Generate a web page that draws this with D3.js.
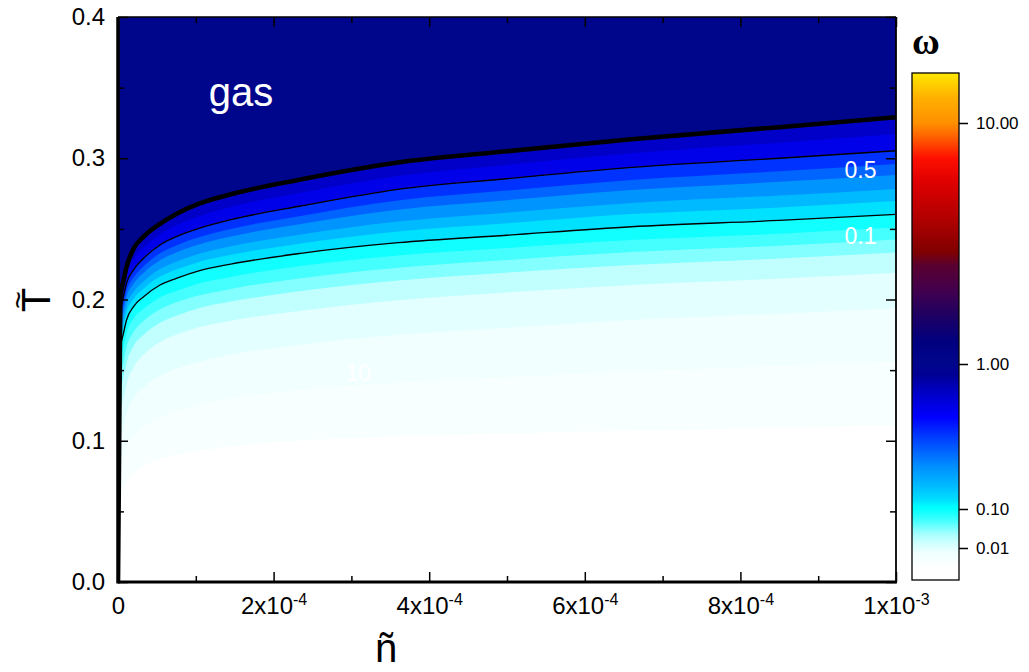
<!DOCTYPE html>
<html>
<head>
<meta charset="utf-8">
<script src="https://cdn.jsdelivr.net/npm/d3@7"></script>
<style>
  html, body { margin: 0; padding: 0; background: #fff; }
  svg { display: block; }
  text { font-family: "Liberation Sans", Arial, sans-serif; }
</style>
</head>
<body>
<svg id="chart" width="1029" height="672"></svg>
<script>
// ---------------- data ----------------
// reduced density n (in units of 1e-4)
const nVals = [0, 0.03, 0.07, 0.11, 0.2, 0.33, 0.54, 0.75, 1.05, 1.45, 2.35, 3.6, 5, 6.6, 8.5, 10];

// gas boundary (thick line)
const T_boundary = [0, 0.202, 0.213, 0.223, 0.236, 0.2445, 0.2535, 0.2605, 0.268, 0.2745, 0.285, 0.297, 0.305, 0.3135, 0.322, 0.329];
// colour-band edges and labelled contours (0.5 and 0.1)
const T_band1 = [0, 0.196, 0.2075, 0.217, 0.2285, 0.2368, 0.246, 0.2525, 0.259, 0.2655, 0.2756, 0.2875, 0.2953, 0.3035, 0.311, 0.3172];
const T_w05 = [0, 0.190, 0.202, 0.2115, 0.221, 0.2292, 0.2386, 0.2445, 0.2505, 0.2565, 0.2662, 0.278, 0.2855, 0.2935, 0.300, 0.3053];
const T_bandA = [0, 0.1848, 0.1965, 0.206, 0.2155, 0.2235, 0.2327, 0.2383, 0.2442, 0.2499, 0.2592, 0.2701, 0.2771, 0.2846, 0.2908, 0.2959];
const T_bandB = [0, 0.1805, 0.1921, 0.2016, 0.2111, 0.2189, 0.2278, 0.2333, 0.2391, 0.2446, 0.2535, 0.2636, 0.2703, 0.2775, 0.2833, 0.2882];
const T_bandC = [0, 0.175, 0.1864, 0.1959, 0.2054, 0.2129, 0.2216, 0.2268, 0.2325, 0.2377, 0.2461, 0.2553, 0.2615, 0.2683, 0.2736, 0.2783];
const T_bandD = [0, 0.1703, 0.1815, 0.191, 0.2005, 0.2077, 0.2162, 0.2212, 0.2268, 0.2317, 0.2397, 0.2481, 0.2539, 0.2605, 0.2652, 0.2697];
const T_w01 = [0, 0.165, 0.176, 0.1855, 0.195, 0.202, 0.2103, 0.215, 0.2205, 0.2251, 0.2327, 0.2402, 0.2455, 0.2515, 0.256, 0.2603];
const T_L1 = [0, 0.155, 0.166, 0.176, 0.1865, 0.1935, 0.2015, 0.206, 0.2115, 0.216, 0.2237, 0.2312, 0.2365, 0.2421, 0.2466, 0.2509];
const T_L2 = [0, 0.145, 0.156, 0.166, 0.177, 0.185, 0.193, 0.198, 0.203, 0.2075, 0.215, 0.2225, 0.228, 0.2336, 0.238, 0.2424];
const T_L3 = [0, 0.133, 0.145, 0.155, 0.167, 0.175, 0.1835, 0.1885, 0.194, 0.1985, 0.206, 0.2135, 0.219, 0.2244, 0.229, 0.2332];
const T_L4 = [0, 0.118, 0.130, 0.140, 0.152, 0.161, 0.170, 0.175, 0.1805, 0.185, 0.192, 0.1995, 0.205, 0.2103, 0.2148, 0.219];
const T_L5 = [0, 0.100, 0.110, 0.119, 0.130, 0.138, 0.146, 0.151, 0.156, 0.161, 0.168, 0.175, 0.18, 0.1855, 0.19, 0.194];
const T_L6 = [0, 0.080, 0.088, 0.095, 0.103, 0.110, 0.117, 0.121, 0.126, 0.130, 0.136, 0.141, 0.145, 0.149, 0.153, 0.156];
const T_L7 = [0, 0.060, 0.066, 0.071, 0.077, 0.082, 0.087, 0.090, 0.093, 0.096, 0.100, 0.103, 0.105, 0.107, 0.109, 0.111];

// omega value of the band lying under each edge (same order as edges)
const bandOmega = [0.62, 0.5, 0.33, 0.25, 0.19, 0.145, 0.115, 0.085, 0.05, 0.03, 0.016, 0.0095, 0.0068, 0.0046, 0.003];
const gasOmega = 1.0;

// colour map stops (omega -> colour)
const mapOmega = [0.003, 0.0074, 0.0134, 0.024, 0.052, 0.103, 0.115, 0.147, 0.195, 0.255, 0.334, 0.43, 0.66, 0.85, 1.0, 1.23, 1.62, 1.98, 2.57, 2.91, 3.97, 5.76, 7.17, 8.75, 10, 12.7, 16];
const mapColors = ['#ffffff', '#f0ffff', '#d0ffff', '#a0ffff', '#40ffff', '#00ffff', '#00e0ff', '#00b8ff', '#0090ff', '#0060ff', '#0030ff', '#0000ff', '#0000c0', '#000094', '#00068c', '#000080', '#200060', '#400050', '#5a0030', '#800000', '#b00000', '#e00000', '#ff1000', '#ff6000', '#ff9000', '#ffb000', '#ffe600'];

// colour bar ticks
const barTicks = [0.01, 0.1, 1, 10];
const barTickLabels = ['0.01', '0.10', '1.00', '10.00'];

// axis ticks
const yTicks = [0, 0.1, 0.2, 0.3, 0.4];
const yMinor = [0.05, 0.15, 0.25, 0.35];
const xTicks = [0, 2, 4, 6, 8, 10];
const xMinor = [1, 3, 5, 7, 9];
const xTickMant = ['0', '2', '4', '6', '8', '1'];
const xTickExp = ['', '-4', '-4', '-4', '-4', '-3'];

// contour labels
const contourLabels = [{ text: '0.5', n: 9.75, T: 0.286 }, { text: '0.1', n: 9.75, T: 0.239 }, { text: '10', n: 3.25, T: 0.1425 }];

// ---------------- drawing ----------------
const svg = d3.select('#chart');
const plot = { left: 118, right: 896, top: 17, bottom: 582 };

const x = d3.scaleLinear().domain([0, 10]).range([plot.left, plot.right]);
const y = d3.scaleLinear().domain([0, 0.4]).range([plot.bottom, plot.top]);

const colorLog = d3.scaleLinear()
  .domain(mapOmega.map(Math.log10))
  .range(mapColors)
  .interpolate(d3.interpolateRgb)
  .clamp(true);
const colorOf = w => colorLog(Math.log10(w));

svg.append('defs').append('clipPath').attr('id', 'clip')
  .append('rect')
  .attr('x', plot.left).attr('y', plot.top)
  .attr('width', plot.right - plot.left).attr('height', plot.bottom - plot.top);

const field = svg.append('g').attr('clip-path', 'url(#clip)');

// gas region background
field.append('rect')
  .attr('x', plot.left).attr('y', plot.top)
  .attr('width', plot.right - plot.left).attr('height', plot.bottom - plot.top)
  .attr('fill', colorOf(gasOmega));

const edges = [T_boundary, T_band1, T_w05, T_bandA, T_bandB, T_bandC, T_bandD, T_w01, T_L1, T_L2, T_L3, T_L4, T_L5, T_L6, T_L7];

const area = d3.area()
  .x((d, i) => x(nVals[i]))
  .y0(y(0))
  .y1(d => y(d))
  .curve(d3.curveMonotoneX);

const line = d3.line()
  .x((d, i) => x(nVals[i]))
  .y(d => y(d))
  .curve(d3.curveMonotoneX);

edges.forEach((T, k) => {
  field.append('path')
    .attr('d', area(T))
    .attr('fill', colorOf(bandOmega[k]));
});

// contour lines
field.append('path').attr('d', line(T_w01)).attr('fill', 'none').attr('stroke', '#000').attr('stroke-width', 1.3);
field.append('path').attr('d', line(T_w05)).attr('fill', 'none').attr('stroke', '#000').attr('stroke-width', 1.3);
field.append('path').attr('d', line(T_boundary)).attr('fill', 'none').attr('stroke', '#000').attr('stroke-width', 4.6);

// labels inside
field.selectAll('text.clab').data(contourLabels).enter().append('text')
  .attr('class', 'clab')
  .attr('x', d => x(d.n)).attr('y', d => y(d.T))
  .attr('text-anchor', 'end')
  .attr('fill', '#fff')
  .attr('font-size', 23)
  .text(d => d.text);

svg.append('text')
  .attr('x', 241).attr('y', 106)
  .attr('text-anchor', 'middle')
  .attr('fill', '#fff')
  .attr('font-size', 40)
  .text('gas');

// ---------- axes ----------
const axisFont = 24;

const yAxis = svg.append('g').attr('transform', `translate(${plot.left},0)`)
  .call(d3.axisLeft(y).tickValues(yTicks).tickFormat(d3.format('.1f')).tickSizeInner(-10).tickSizeOuter(0).tickPadding(13));
yAxis.selectAll('text').attr('font-size', axisFont).attr('fill', '#000').style('font-family', '"Liberation Sans", Arial, sans-serif');

svg.append('g').attr('transform', `translate(${plot.left},0)`)
  .call(d3.axisLeft(y).tickValues(yMinor).tickFormat('').tickSizeInner(-6).tickSizeOuter(0));

svg.append('g').attr('transform', `translate(${plot.right},0)`)
  .call(d3.axisRight(y).tickValues(yTicks).tickFormat('').tickSizeInner(-10).tickSizeOuter(0));
svg.append('g').attr('transform', `translate(${plot.right},0)`)
  .call(d3.axisRight(y).tickValues(yMinor).tickFormat('').tickSizeInner(-6).tickSizeOuter(0));

const xAxis = svg.append('g').attr('transform', `translate(0,${plot.bottom})`)
  .call(d3.axisBottom(x).tickValues(xTicks).tickSizeInner(-10).tickSizeOuter(0).tickPadding(15));
xAxis.selectAll('text').each(function (d, i) {
  const t = d3.select(this);
  t.text(null)
    .attr('font-size', axisFont).attr('fill', '#000')
    .style('font-family', '"Liberation Sans", Arial, sans-serif');
  if (xTickExp[i] === '') {
    t.text(xTickMant[i]);
  } else {
    t.append('tspan').text(xTickMant[i] + 'x10');
    t.append('tspan').attr('font-size', 16).attr('dy', '-0.55em').text(xTickExp[i]);
  }
});
svg.append('g').attr('transform', `translate(0,${plot.bottom})`)
  .call(d3.axisBottom(x).tickValues(xMinor).tickFormat('').tickSizeInner(-6).tickSizeOuter(0));

svg.append('g').attr('transform', `translate(0,${plot.top})`)
  .call(d3.axisTop(x).tickValues(xTicks).tickFormat('').tickSizeInner(-10).tickSizeOuter(0));
svg.append('g').attr('transform', `translate(0,${plot.top})`)
  .call(d3.axisTop(x).tickValues(xMinor).tickFormat('').tickSizeInner(-6).tickSizeOuter(0));

svg.selectAll('.domain').remove();
svg.selectAll('.tick line').attr('stroke', '#000').attr('stroke-width', 1.5);

// frame
svg.append('line').attr('x1', plot.left).attr('x2', plot.right).attr('y1', plot.top).attr('y2', plot.top).attr('stroke', '#000').attr('stroke-width', 1.5);
svg.append('line').attr('x1', plot.right).attr('x2', plot.right).attr('y1', plot.top).attr('y2', plot.bottom).attr('stroke', '#000').attr('stroke-width', 1.8);
svg.append('line').attr('x1', plot.left).attr('x2', plot.left).attr('y1', plot.top).attr('y2', plot.bottom + 1.5).attr('stroke', '#000').attr('stroke-width', 3.5);
svg.append('line').attr('x1', plot.left).attr('x2', plot.right + 1).attr('y1', plot.bottom).attr('y2', plot.bottom).attr('stroke', '#000').attr('stroke-width', 2.8);

// axis titles
const yt = svg.append('g').attr('transform', 'translate(34,300) rotate(-90)');
yt.append('text').attr('x', 0).attr('y', 16).attr('text-anchor', 'middle')
  .attr('font-size', 40).attr('fill', '#000').text('T');
yt.append('text').attr('x', 0).attr('y', -6).attr('text-anchor', 'middle')
  .attr('font-size', 30).attr('fill', '#000').text('~');

svg.append('text').attr('x', 386).attr('y', 662).attr('text-anchor', 'middle')
  .attr('font-size', 40).attr('fill', '#000').text('ñ');

// ---------- colour bar ----------
const bar = { left: 912, right: 959, top: 73, bottom: 580 };
const barPos = d3.scaleLinear().domain([-2, -1, 0, 1]).range([548, 509, 364, 123]);
const barRows = d3.range(bar.top, bar.bottom, 1);
svg.append('g').selectAll('rect').data(barRows).enter().append('rect')
  .attr('x', bar.left).attr('y', d => d)
  .attr('width', bar.right - bar.left).attr('height', 1.2)
  .attr('fill', d => colorLog(barPos.invert(d + 0.5)));
svg.append('rect').attr('x', bar.left).attr('y', bar.top)
  .attr('width', bar.right - bar.left).attr('height', bar.bottom - bar.top)
  .attr('fill', 'none').attr('stroke', '#000').attr('stroke-width', 1.3);

const barAxis = svg.append('g').attr('transform', `translate(${bar.right},0)`)
  .call(d3.axisRight(d3.scaleLinear().domain(barPos.domain()).range(barPos.range()))
    .tickValues(barTicks.map(Math.log10))
    .tickFormat((d, i) => barTickLabels[i])
    .tickSizeInner(9).tickSizeOuter(0).tickPadding(8));
barAxis.select('.domain').remove();
barAxis.selectAll('line').attr('stroke', '#000').attr('stroke-width', 1.5);
barAxis.selectAll('text').attr('font-size', 17).attr('fill', '#000').style('font-family', '"Liberation Sans", Arial, sans-serif');

svg.append('text').attr('x', 926).attr('y', 54).attr('text-anchor', 'middle')
  .style('font-family', '"Liberation Serif", "Times New Roman", serif')
  .attr('font-weight', 'bold')
  .attr('font-size', 38).attr('fill', '#000').text('ω');
</script>
</body>
</html>
